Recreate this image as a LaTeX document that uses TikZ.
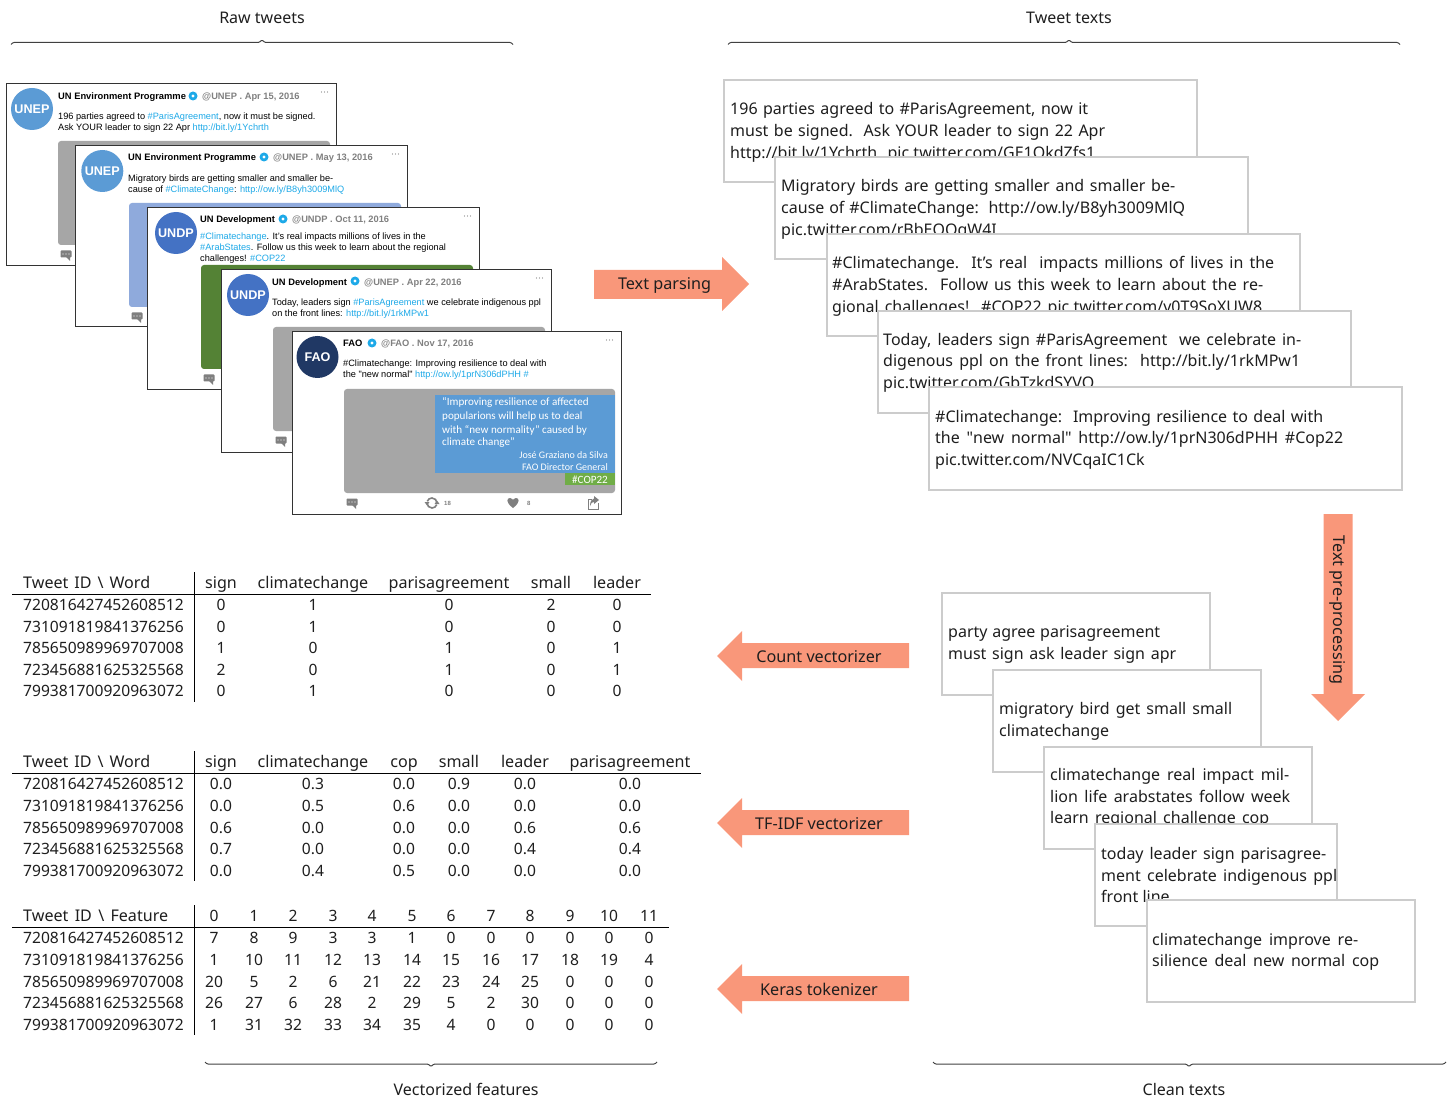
\documentclass[tikz,border=0pt]{standalone}
\usepackage{fontspec}
\setmainfont{Noto Sans}
\newfontfamily\nof{Noto Sans}
\newfontfamily\twf{Liberation Sans}
\newfontfamily\carf{Carlito}
\newcommand\sq{{\nof"}}
\definecolor{lnk}{HTML}{1DA9E8}
\definecolor{arrowc}{HTML}{F9977A}
\definecolor{boxc}{HTML}{CCCCCC}
\definecolor{hand}{HTML}{808080}
\definecolor{imggray}{HTML}{A6A6A6}
\definecolor{imgblue}{HTML}{8FAADC}
\definecolor{imggreen}{HTML}{548235}
\definecolor{avblue}{HTML}{5B9BD5}
\definecolor{avdark}{HTML}{4472C4}
\definecolor{avnavy}{HTML}{203864}
\definecolor{panel}{HTML}{5B9BD5}
\definecolor{copg}{HTML}{70AD47}
\definecolor{ico}{HTML}{7F7F7F}
\definecolor{ink}{HTML}{1E1E1E}
\tikzset{
 tw/.style={font=\twf\fontsize{9.2}{10}\selectfont,anchor=base west,inner sep=0pt,text=black},
 twb/.style={tw,font=\twf\bfseries\fontsize{9.35}{10}\selectfont},
 twh/.style={tw,font=\twf\bfseries\fontsize{9.3}{10}\selectfont,text=hand},
 captxt/.style={font=\fontsize{16}{18}\selectfont,inner sep=0pt,anchor=base,text=ink},
 arrtxt/.style={font=\fontsize{16.2}{18}\selectfont,inner sep=0pt,text=ink},
 lineL/.style={font=\fontsize{16}{18}\selectfont,anchor=base west,inner sep=0pt,text=ink},
 cell/.style={font=\fontsize{15.6}{18}\selectfont,anchor=base,inner sep=0pt,text=ink},
 hcell/.style={cell,font=\fontsize{16.1}{18}\selectfont},
 rowid/.style={font=\fontsize{15.6}{18}\selectfont,anchor=base west,inner sep=0pt,text=ink},
 rule/.style={line width=1pt,black},
 tbox/.style={draw=boxc,line width=1.6pt,fill=white},
 fat/.style={fill=arrowc,draw=none},
 brace/.style={draw=black!75,line width=1pt},
 pan/.style={font=\carf\fontsize{11.1}{12}\selectfont,text=white,inner sep=0pt},
}
% tweet card: prefix, box x1,y1,x2,y2, image fill, avatar colour, avatar label, avatar shift; \iml = image left offset
\newcommand\twcard[9]{%
 \draw[line width=1pt,draw=black!80,fill=white] (#2,#3) rectangle (#4,#5);
 \fill[#6,rounded corners=3pt] (#2+\iml,#3+57) rectangle (#4-6.5,#3+161);
 \fill[#7] (#2+26+#9,#3+25) circle (21);
 \node[font=\twf\bfseries\fontsize{12.6}{15}\selectfont,text=white,inner sep=0pt] (#1av) at (#2+26+#9,#3+25) {#8};
 \node[fill=ico,rounded corners=.8pt,minimum width=11pt,minimum height=7pt,inner sep=0pt] (#1cm) at (#2+\iml+8,#3+170) {};
 \fill[ico] (#2+\iml+8,#3+173) -- (#2+\iml+12,#3+173) -- (#2+\iml+12,#3+177) -- cycle;
 \foreach \d in {-3,0,3} \fill[white] (#2+\iml+8+\d,#3+170) circle (.7);
 \foreach \d in {-3,0,3} \fill[black!50] (#4-12+\d,#3+8) circle (.6);
}
\newcommand\vfy[2]{\fill[lnk] (#1,#2) circle (4.5); \fill[white] (#1,#2) circle (1.6);}
\newcommand\trow[5]{\foreach \v [count=\i] in {#5} {\pgfmathsetmacro\cx{{#4}[\i-1]}\node[cell] (#1r#2c\i) at (\cx,#3+6.3) {\v};}}
\newcommand\hrow[4]{\foreach \v [count=\i] in {#4} {\pgfmathsetmacro\cx{{#3}[\i-1]}\node[hcell] (#1r0c\i) at (\cx,#2+6.3) {\v};}}
\newcommand\txl[5]{\node[lineL] (#1) at (#2,#3+6.3) {\makebox[#4pt][s]{#5}};}
\newcommand\txn[4]{\node[lineL] (#1) at (#2,#3+6.3) {#4};}
\newcommand\fatleft[1]{\fill[fat] (717,#1) -- (742,#1-25) -- (742,#1-13) -- (909,#1-13) -- (909,#1+12) -- (742,#1+12) -- (742,#1+25) -- cycle;}
\begin{document}
\begin{tikzpicture}[x=1pt,y=-1pt]
\useasboundingbox (0,0) rectangle (1452,1099);
% braces
\draw[brace,rounded corners=1pt] (11,44.5) -- (13,42.5) -- (259,42.5) -- (262,40) -- (265,42.5) -- (511,42.5) -- (513,44.5);
\draw[brace,rounded corners=1pt] (728,44.5) -- (730,42.5) -- (1066,42.5) -- (1069,40) -- (1072,42.5) -- (1398,42.5) -- (1400,44.5);
\draw[brace,rounded corners=1pt] (205,1062) -- (207,1064) -- (428,1064) -- (431,1066.5) -- (434,1064) -- (655,1064) -- (657,1062);
\draw[brace,rounded corners=1pt] (933,1062) -- (935,1064) -- (1186,1064) -- (1189,1066.5) -- (1192,1064) -- (1444,1064) -- (1446,1062);
\node[captxt] (lraw) at (262,24) {Raw tweets};
\node[captxt] (ltxt) at (1069,24) {Tweet texts};
\node[captxt] (lvec) at (466,1095) {Vectorized features};
\node[captxt] (lcln) at (1184,1095) {Clean texts};
% tweets
\def\iml{52}
\twcard{a}{6}{84}{336.5}{266}{imggray}{avblue}{UNEP}{0}
\node[twb] (an) at (58,99.7) {UN Environment Programme}; \vfy{193}{96}
\node[twh] (ah) at (202,99.7) {@UNEP . Apr 15, 2016};
\node[tw] (at1) at (58,119.7) {196 parties agreed to \textcolor{lnk}{\#ParisAgreement}, now it must be signed.};
\node[tw] (at2) at (58,130.7) {Ask YOUR leader to sign 22 Apr \textcolor{lnk}{http://bit.ly/1Ychrth}};
\def\iml{53.5}
\twcard{b}{75.5}{146}{407.5}{327}{imgblue}{avblue}{UNEP}{.8}
\node[twb] (bn) at (128,160.7) {UN Environment Programme}; \vfy{264}{157}
\node[twh] (bh) at (273,160.7) {@UNEP . May 13, 2016};
\node[tw] (bt1) at (128,181.7) {Migratory birds are getting smaller and smaller be-};
\node[tw] (bt2) at (128,192.7) {cause of \textcolor{lnk}{\#ClimateChange}: \textcolor{lnk}{http://ow.ly/B8yh3009MlQ}};
\def\iml{54}
\twcard{c}{147}{208}{479.5}{390}{imggreen}{avdark}{UNDP}{3}
\node[twb] (cn) at (200,223) {UN Development}; \vfy{283}{219}
\node[twh] (ch) at (292,223) {@UNDP . Oct 11, 2016};
\node[tw] (ct1) at (200,240) {\textcolor{lnk}{\#Climatechange}. It’s real impacts millions of lives in the};
\node[tw] (ct2) at (200,251) {\textcolor{lnk}{\#ArabStates}. Follow us this week to learn about the regional};
\node[tw] (ct3) at (200,262) {challenges! \textcolor{lnk}{\#COP22}};
\def\iml{52}
\twcard{d}{221}{270}{551.5}{452}{imggray}{avdark}{UNDP}{1}
\node[twb] (dn) at (272,285.5) {UN Development}; \vfy{355}{281}
\node[twh] (dh) at (364,285.5) {@UNEP . Apr 22, 2016};
\node[tw] (dt1) at (272,305.5) {Today, leaders sign \textcolor{lnk}{\#ParisAgreement} we celebrate indigenous ppl};
\node[tw] (dt2) at (272,316.5) {on the front lines: \textcolor{lnk}{http://bit.ly/1rkMPw1}};
\def\iml{52}
\twcard{e}{292}{332}{621.5}{514}{imggray}{avnavy}{FAO}{-.5}
\node[twb] (en) at (343,346.7) {FAO}; \vfy{372}{343}
\node[twh] (eh) at (381,346.7) {@FAO . Nov 17, 2016};
\node[tw] (et1) at (343,366.5) {\#Climatechange: Improving resilience to deal with};
\node[tw] (et2) at (343,377.5) {the "new normal" \textcolor{lnk}{http://ow.ly/1prN306dPHH \#}};
\fill[panel] (435,395) rectangle (615,473);
\fill[copg] (565,473) rectangle (615,485);
\node[pan,anchor=base west] (ep1) at (442,406) {“Improving resilience of affected};
\node[pan,anchor=base west] (ep2) at (442,419) {popularions will help us to deal};
\node[pan,anchor=base west] (ep3) at (442,433) {with “new normality” caused by};
\node[pan,anchor=base west] (ep4) at (442,446) {climate change”};
\node[pan,anchor=base east,font=\carf\fontsize{10}{12}\selectfont] (ep5) at (608,458.5) {José Graziano da Silva};
\node[pan,anchor=base east,font=\carf\fontsize{10}{12}\selectfont] (ep6) at (608,470.5) {FAO Director General};
\node[pan,anchor=base] (ep7) at (590,483) {\#COP22};
% retweet, heart, share icons
\draw[ico,line width=1.6pt] (427,503) arc (180:20:5);
\draw[ico,line width=1.6pt] (437,503) arc (0:-160:5);
\fill[ico] (424.5,502) -- (429.5,502) -- (427,505.5) -- cycle;
\fill[ico] (434.5,504) -- (439.5,504) -- (437,500.5) -- cycle;
\node[tw,font=\twf\bfseries\fontsize{6}{7}\selectfont,text=ico] (ert) at (444,505) {18};
\fill[ico] (513,508) .. controls (505,502) and (507,498) .. (510,498) .. controls (512,498) and (513,500) .. (513,500) .. controls (513,500) and (514,498) .. (516,498) .. controls (519,498) and (521,502) .. (513,508) -- cycle;
\node[tw,font=\twf\bfseries\fontsize{6}{7}\selectfont,text=ico] (elk) at (527,505) {8};
\draw[ico,line width=.9pt] (598,503) -- (598,509) -- (588,509) -- (588,499) -- (592,499);
\fill[ico] (594,496) -- (599,500) -- (594,504) -- (594,502) .. controls (592,502) and (591,503) .. (590,506) .. controls (590,501) and (592,499) .. (594,498.5) -- cycle;
% arrows
\fill[fat] (594,270) -- (722,270) -- (722,257) -- (749,284) -- (722,311) -- (722,299) -- (594,299) -- cycle;
\node[arrtxt,anchor=base] (aparse) at (664.5,289.7) {Text parsing};
\fill[fat] (1323.5,514) -- (1352.5,514) -- (1352.5,694) -- (1365,694) -- (1338,721) -- (1311,694) -- (1323.5,694) -- cycle;
\node[arrtxt,rotate=-90] (aprep) at (1338,610) {Text pre-processing};
\fatleft{656}\fatleft{823}\fatleft{989}
\node[arrtxt,anchor=base] (acv) at (819,662) {Count vectorizer};
\node[arrtxt,anchor=base] (atf) at (819,829) {TF-IDF vectorizer};
\node[arrtxt,anchor=base] (ake) at (819,995) {Keras tokenizer};
% tweet text boxes
\draw[tbox] (724,80) rectangle (1197,182);
\txl{p1}{730}{108}{358}{196 parties agreed to \#ParisAgreement, now it}
\txl{p2}{730}{130}{375}{must be signed.\ \ Ask YOUR leader to sign 22 Apr}
\txl{p3}{730}{152}{365}{http://bit.ly/1Ychrth pic.twitter.com/GE1OkdZfs1}
\draw[tbox] (775,157) rectangle (1248,259);
\txl{q1}{781}{185}{394}{Migratory birds are getting smaller and smaller be-}
\txl{q2}{781}{207}{404}{cause of \#ClimateChange:\ \ http://ow.ly/B8yh3009MlQ}
\txn{q3}{781}{229}{pic.twitter.com/rBbEOOqW4I}
\draw[tbox] (827,234) rectangle (1300,336);
\txl{r1}{832}{262}{442}{\#Climatechange.\ \ It’s real\ \ impacts millions of lives in the}
\txl{r2}{832}{284}{431}{\#ArabStates.\ \ Follow us this week to learn about the re-}
\txl{r3}{832}{306}{430}{gional challenges!\ \ \#COP22 pic.twitter.com/v0T9SoXUW8}
\draw[tbox] (878,311) rectangle (1351,413);
\txl{s1}{883}{339}{418}{Today, leaders sign \#ParisAgreement\ \ we celebrate in-}
\txl{s2}{883}{360}{417}{digenous ppl on the front lines:\ \ http://bit.ly/1rkMPw1}
\txn{s3}{883}{382}{pic.twitter.com/GbTzkdSYVQ}
\draw[tbox] (929,387) rectangle (1402,490);
\txl{t1}{935}{416}{388}{\#Climatechange:\ \ Improving resilience to deal with}
\txl{t2}{935}{437}{408}{the \sq new normal\sq\ http://ow.ly/1prN306dPHH \#Cop22}
\txn{t3}{935}{459}{pic.twitter.com/NVCqaIC1Ck}
% clean boxes
\draw[tbox] (942,593) rectangle (1210,695);
\txl{u1}{948}{631}{212}{party agree parisagreement}
\txl{u2}{948}{653}{228}{must sign ask leader sign apr}
\draw[tbox] (993,670) rectangle (1261,772);
\txl{v1}{999}{708}{233}{migratory bird get small small}
\txn{v2}{999}{730}{climatechange}
\draw[tbox] (1044,747) rectangle (1312,849);
\txl{w1}{1050}{774}{239}{climatechange real impact mil-}
\txl{w2}{1050}{796}{240}{lion life arabstates follow week}
\txl{w3}{1050}{817}{219}{learn regional challenge cop}
\draw[tbox] (1095,824) rectangle (1337,926);
\txl{x1}{1101}{853}{225}{today leader sign parisagree-}
\txl{x2}{1101}{875}{236}{ment celebrate indigenous ppl}
\txn{x3}{1101}{896}{front line}
\draw[tbox] (1147,900) rectangle (1415,1002);
\txl{y1}{1152}{939}{206}{climatechange improve re-}
\txl{y2}{1152}{960}{227}{silience deal new normal cop}
% table 1
\draw[rule] (12,594.5) -- (651,594.5); \draw[rule] (194,572) -- (194,702);
\node[rowid,font=\fontsize{16.1}{18}\selectfont] (t1h) at (23,588.3) {\makebox[127pt][s]{Tweet ID \textbackslash\ Word}};
\def\colsA{221,313,449,551,617}
\hrow{A}{582}{\colsA}{sign,climatechange,parisagreement,small,leader}
\node[rowid] (t1a) at (23,610.3) {720816427452608512}; \trow{A}{1}{604}{\colsA}{0,1,0,2,0}
\node[rowid] (t1b) at (23,632.3) {731091819841376256}; \trow{A}{2}{626}{\colsA}{0,1,0,0,0}
\node[rowid] (t1c) at (23,653.3) {785650989969707008}; \trow{A}{3}{647}{\colsA}{1,0,1,0,1}
\node[rowid] (t1d) at (23,675.3) {723456881625325568}; \trow{A}{4}{669}{\colsA}{2,0,1,0,1}
\node[rowid] (t1e) at (23,696.3) {799381700920963072}; \trow{A}{5}{690}{\colsA}{0,1,0,0,0}
% table 2
\draw[rule] (12,773.5) -- (701,773.5); \draw[rule] (194,751) -- (194,881);
\node[rowid,font=\fontsize{16.1}{18}\selectfont] (t2h) at (23,767.3) {\makebox[127pt][s]{Tweet ID \textbackslash\ Word}};
\def\colsB{221,313,404,459,525,630}
\hrow{B}{761}{\colsB}{sign,climatechange,cop,small,leader,parisagreement}
\node[rowid] (t2a) at (23,789.3) {720816427452608512}; \trow{B}{1}{783}{\colsB}{0.0,0.3,0.0,0.9,0.0,0.0}
\node[rowid] (t2b) at (23,811.3) {731091819841376256}; \trow{B}{2}{805}{\colsB}{0.0,0.5,0.6,0.0,0.0,0.0}
\node[rowid] (t2c) at (23,833.3) {785650989969707008}; \trow{B}{3}{827}{\colsB}{0.6,0.0,0.0,0.0,0.6,0.6}
\node[rowid] (t2d) at (23,854.3) {723456881625325568}; \trow{B}{4}{848}{\colsB}{0.7,0.0,0.0,0.0,0.4,0.4}
\node[rowid] (t2e) at (23,876.3) {799381700920963072}; \trow{B}{5}{870}{\colsB}{0.0,0.4,0.5,0.0,0.0,0.0}
% table 3
\draw[rule] (12,927.5) -- (669,927.5); \draw[rule] (194,905) -- (194,1035);
\def\colsC{214,254,293,333,372,412,451,491,530,570,609,649}
\node[rowid,font=\fontsize{16.1}{18}\selectfont] (t3h) at (23,921.3) {\makebox[145pt][s]{Tweet ID \textbackslash\ Feature}};
\trow{C}{0}{915}{\colsC}{0,1,2,3,4,5,6,7,8,9,10,11}
\node[rowid] (t3a) at (23,943.3) {720816427452608512}; \trow{C}{1}{937}{\colsC}{7,8,9,3,3,1,0,0,0,0,0,0}
\node[rowid] (t3b) at (23,965.3) {731091819841376256}; \trow{C}{2}{959}{\colsC}{1,10,11,12,13,14,15,16,17,18,19,4}
\node[rowid] (t3c) at (23,987.3) {785650989969707008}; \trow{C}{3}{981}{\colsC}{20,5,2,6,21,22,23,24,25,0,0,0}
\node[rowid] (t3d) at (23,1008.3) {723456881625325568}; \trow{C}{4}{1002}{\colsC}{26,27,6,28,2,29,5,2,30,0,0,0}
\node[rowid] (t3e) at (23,1030.3) {799381700920963072}; \trow{C}{5}{1024}{\colsC}{1,31,32,33,34,35,4,0,0,0,0,0}
\end{tikzpicture}
\end{document}
